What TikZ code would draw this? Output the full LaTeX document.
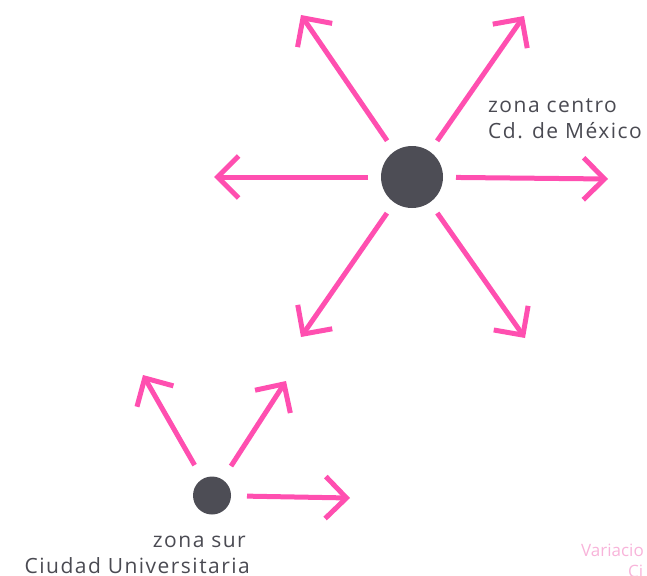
\documentclass[tikz,border=0pt]{standalone}
\usepackage{fontspec}
\setmainfont{Open Sans}
\newfontfamily\spacedfont[LetterSpace=7]{Open Sans}
\usetikzlibrary{arrows.meta}
\definecolor{pinkl}{HTML}{FF4FB0}
\definecolor{dot}{HTML}{4D4D55}
\definecolor{txt}{HTML}{4A4A52}
\definecolor{faint}{HTML}{F8B4DA}
\begin{document}
\begin{tikzpicture}[x=1pt,y=-1pt,
  arr/.style={draw=pinkl, line width=5pt, -{Straight Barb[length=21pt,width=42pt]}},
  hub/.style={circle, fill=dot, draw=none, inner sep=0pt},
  lbl/.style={text=txt, font=\spacedfont\fontsize{21}{25}\selectfont, inner sep=0pt},
  faintlbl/.style={text=faint, font=\fontsize{17}{21}\selectfont, inner sep=0pt}]
\useasboundingbox (0,0) rectangle (647,575);
\clip (0,0) rectangle (647,575);
% big hub
\node[hub, minimum size=62pt, outer sep=13pt] (c) at (412,177) {};
\coordinate (t1) at (301,15);
\coordinate (t2) at (524,16);
\coordinate (t3) at (214,177);
\coordinate (t4) at (608,179);
\coordinate (t5) at (301,337);
\coordinate (t6) at (525,338);
\foreach \t in {t1,t2,t3,t4,t5,t6} \draw[arr] (c) -- (\t);
% small hub
\node[hub, minimum size=38pt, outer sep=16pt] (s) at (212,495.5) {};
\coordinate (u1) at (143,375);
\coordinate (u2) at (286,381);
\coordinate (u3) at (350,498);
\foreach \t in {u1,u2,u3} \draw[arr] (s) -- (\t);
% labels
\node[lbl, anchor=base west] (l1) at (488,113) {zona centro};
\node[lbl, anchor=base west] (l2) at (488,138) {Cd. de México};
\node[lbl, anchor=base east] (l3) at (246,547) {zona sur};
\node[lbl, anchor=base east] (l4) at (250,573) {Ciudad Universitaria};
\node[faintlbl, anchor=base west] (f1) at (581,556) {Variacio};
\node[faintlbl, anchor=base west] (f2) at (628,577) {Ci};
\end{tikzpicture}
\end{document}
